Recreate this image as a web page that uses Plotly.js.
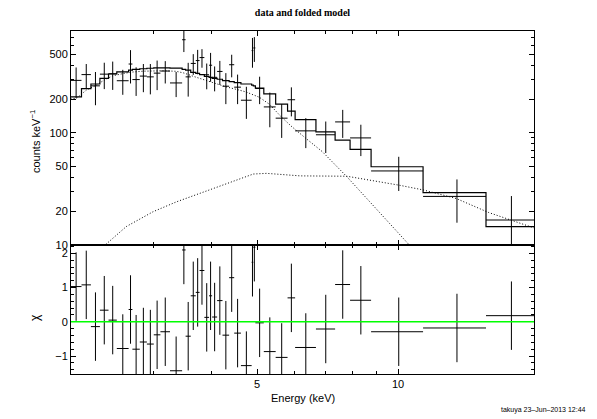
<!DOCTYPE html>
<html>
<head>
<meta charset="utf-8">
<script src="https://cdn.plot.ly/plotly-3.0.1.min.js"></script>
<style>
html,body{margin:0;padding:0;background:#fff;}
#chart{width:597px;height:419px;}
</style>
</head>
<body>
<div id="chart"></div>
<script>
// Bin edges (keV), 39 bins
const binEdges = [2.00, 2.11, 2.21, 2.31, 2.41, 2.51, 2.66, 2.71, 2.81, 2.91, 3.01, 3.11, 3.26, 3.46, 3.52, 3.61, 3.70, 3.77, 3.86, 3.95, 4.01, 4.11, 4.22, 4.36, 4.47, 4.62, 4.87, 4.91, 4.96, 5.17, 5.48, 5.81, 6.03, 6.68, 7.34, 7.90, 8.76, 11.31, 15.41, 19.51];
// Data (counts keV^-1) and 1-sigma errors
const dataCounts = [293, 330, 262, 333, 336, 291, 410, 298, 320, 315, 340, 355, 278, 675, 315, 415, 440, 468, 329, 400, 312, 352, 260, 404, 255, 195, 540, 570, 248, 170, 135, 197, 104, 96, 125, 90, 45.7, 27.1, 16.7];
const dataErrors = [89, 80, 86, 88, 95, 73, 135, 85, 90, 95, 100, 80, 70, 151, 105, 87, 108, 88, 85, 115, 78, 85, 80, 92, 75, 62, 160, 142, 68, 58, 45, 57, 31, 30, 35, 28, 15.4, 11.3, 10.6];
// Folded total model per bin
const modelCounts = [209, 247, 272, 305, 334, 349, 362, 367, 372, 376, 379, 379, 377, 367, 362, 345, 338, 330, 318, 312, 305, 300, 292, 286, 280, 272, 266, 262, 250, 222, 180, 156, 131, 102, 86, 71, 49.8, 29.3, 14.6];
// Residuals (chi)
const chiValues = [1.03, 1.08, -0.14, 0.34, 0.05, -0.78, 0.36, -0.80, -0.59, -0.65, -0.38, -0.29, -1.43, 2.10, -0.42, 0.76, 0.86, 1.50, 0.13, 0.76, 0.14, 0.62, -0.39, 1.29, -0.33, -1.28, 1.74, 2.18, -0.03, -0.87, -1.04, 0.70, -0.75, -0.21, 1.09, 0.63, -0.29, -0.18, 0.18];
// Model component 1 (soft, steep)
const compAEnergy = [2.00, 2.06, 2.16, 2.26, 2.36, 2.46, 2.59, 2.69, 2.86, 3.06, 3.18, 3.36, 3.49, 3.66, 3.81, 4.06, 4.29, 4.55, 4.74, 5.06, 5.32, 5.62, 5.91, 6.34, 6.89, 7.78, 8.88, 10.1, 11.1];
const compACounts = [200, 203, 240, 263, 295, 322, 337, 347, 354, 357, 357, 353, 341, 318, 301, 273, 257, 242, 231, 207, 179, 140, 115, 90, 68, 40.5, 21.9, 12.3, 8];
// Model component 2 (hard, flat)
const compBEnergy = [2.00, 2.37, 2.63, 3.00, 3.37, 3.96, 4.45, 4.91, 5.24, 6.18, 7.78, 8.88, 10.1, 11.3, 13.3, 15.6, 18.5, 19.5];
const compBCounts = [5.7, 10, 14.6, 19.8, 24.3, 30.9, 36.7, 42.9, 43.5, 41.3, 41, 37.5, 34, 31, 26, 19.5, 15.2, 14.2];

const centers = [], errPlus = [], errMinus = [];
for (let i = 0; i < binEdges.length - 1; i++) {
  const c = (binEdges[i] + binEdges[i + 1]) / 2;
  centers.push(c);
  errPlus.push(binEdges[i + 1] - c);
  errMinus.push(c - binEdges[i]);
}
const stepY = modelCounts.concat([modelCounts[modelCounts.length - 1]]);

const black = '#000';
const errX = {type: 'data', array: errPlus, arrayminus: errMinus, symmetric: false, color: black, thickness: 1, width: 0};

const traces = [
  {x: compAEnergy, y: compACounts, xaxis: 'x', yaxis: 'y', mode: 'lines', line: {color: black, width: 1, dash: '1px,2px'}, hoverinfo: 'skip'},
  {x: compBEnergy, y: compBCounts, xaxis: 'x', yaxis: 'y', mode: 'lines', line: {color: black, width: 1, dash: '1px,2px'}, hoverinfo: 'skip'},
  {x: binEdges, y: stepY, xaxis: 'x', yaxis: 'y', mode: 'lines', line: {color: black, width: 1.2, shape: 'hv'}},
  {x: centers, y: dataCounts, xaxis: 'x', yaxis: 'y', mode: 'markers', marker: {size: 2, opacity: 0},
   error_y: {type: 'data', array: dataErrors, color: black, thickness: 1, width: 0}, error_x: errX},
  {x: centers, y: chiValues, xaxis: 'x2', yaxis: 'y2', mode: 'markers', marker: {size: 2, opacity: 0},
   error_y: {type: 'constant', value: 1, color: black, thickness: 1, width: 0}, error_x: errX}
];

const xRange = [Math.log10(2.004), Math.log10(19.51)];
const xCommon = {
  type: 'log', range: xRange, showline: true, mirror: 'ticks', linecolor: black, linewidth: 1,
  ticks: 'inside', ticklen: 5, tickcolor: black, tickwidth: 1, tickmode: 'array', tickvals: [5, 10], ticktext: ['5', '10'],
  showgrid: false, zeroline: false, domain: [0, 1],
  minor: {tickmode: 'array', tickvals: [2, 3, 4, 6, 7, 8, 9], ticks: 'inside', ticklen: 3, tickcolor: black, showgrid: false},
  tickfont: {family: 'Liberation Sans, Arial, sans-serif', size: 11, color: black}
};
const splitFrac = 129 / 343;

const layout = {
  width: 597, height: 419,
  margin: {l: 71, r: 63, t: 31, b: 45, pad: 0},
  paper_bgcolor: '#fff', plot_bgcolor: '#fff',
  showlegend: false,
  font: {family: 'Liberation Sans, Arial, sans-serif', size: 11, color: black},
  title: {text: '<b>data and folded model</b>', font: {family: 'Liberation Serif, Times New Roman, serif', size: 10, color: black},
          x: 0.5, xref: 'paper', xanchor: 'center', y: 1 - 12.6 / 419, yref: 'container', yanchor: 'middle'},
  xaxis: Object.assign({}, xCommon, {anchor: 'y', showticklabels: false}),
  xaxis2: Object.assign({}, xCommon, {anchor: 'y2', showticklabels: true, matches: 'x'}),
  yaxis: {
    type: 'log', domain: [splitFrac, 1], range: [1, 2.907], anchor: 'x',
    showline: true, mirror: 'ticks', linecolor: black, linewidth: 1,
    ticks: 'inside', ticklen: 5, tickcolor: black, tickmode: 'array',
    tickvals: [10, 20, 50, 100, 200, 500], ticktext: ['10', '20', '50', '100', '200', '500'],
    showgrid: false, zeroline: false,
    minor: {tickmode: 'array', tickvals: [30, 40, 60, 70, 80, 90, 300, 400, 600, 700, 800], ticks: 'inside', ticklen: 3, tickcolor: black, showgrid: false},
    tickfont: {family: 'Liberation Sans, Arial, sans-serif', size: 11, color: black}
  },
  yaxis2: {
    domain: [0, splitFrac], range: [-1.525, 2.245], anchor: 'x2',
    showline: true, mirror: 'ticks', linecolor: black, linewidth: 1,
    ticks: 'inside', ticklen: 5, tickcolor: black, tickmode: 'array',
    tickvals: [-1, 0, 1, 2], ticktext: ['\u22121', '0', '1', '2'],
    showgrid: false, zeroline: false,
    minor: {tickmode: 'array', tickvals: [-1.4, -1.2, -0.8, -0.6, -0.4, -0.2, 0.2, 0.4, 0.6, 0.8, 1.2, 1.4, 1.6, 1.8, 2.2], ticks: 'inside', ticklen: 3, tickcolor: black, showgrid: false},
    tickfont: {family: 'Liberation Sans, Arial, sans-serif', size: 11, color: black}
  },
  shapes: [
    {type: 'line', xref: 'x2 domain', x0: 0, x1: 1, yref: 'y2', y0: 0, y1: 0, line: {color: '#00ff00', width: 1.5}, layer: 'above'}
  ],
  annotations: [
    {text: 'counts keV<sup>\u22121</sup>', xref: 'paper', yref: 'paper', x: (35 - 71) / 463, y: (374 - 142) / 343,
     xanchor: 'center', yanchor: 'middle', textangle: -90, showarrow: false, font: {size: 11, color: black}},
    {text: '\u03c7', xref: 'paper', yref: 'paper', x: (35 - 71) / 463, y: (374 - 318) / 343,
     xanchor: 'center', yanchor: 'middle', textangle: -90, showarrow: false, font: {size: 12, color: black}},
    {text: 'Energy (keV)', xref: 'paper', yref: 'paper', x: 0.5, y: (374 - 398) / 343,
     xanchor: 'center', yanchor: 'middle', showarrow: false, font: {size: 11, color: black}},
    {text: 'takuya 23\u2013Jun\u20132013 12:44', xref: 'paper', yref: 'paper', x: (588 - 71) / 463, y: (374 - 410) / 343,
     xanchor: 'right', yanchor: 'middle', showarrow: false, font: {size: 7, color: black}}
  ]
};

Plotly.newPlot('chart', traces, layout, {staticPlot: true, displayModeBar: false});
</script>
</body>
</html>
